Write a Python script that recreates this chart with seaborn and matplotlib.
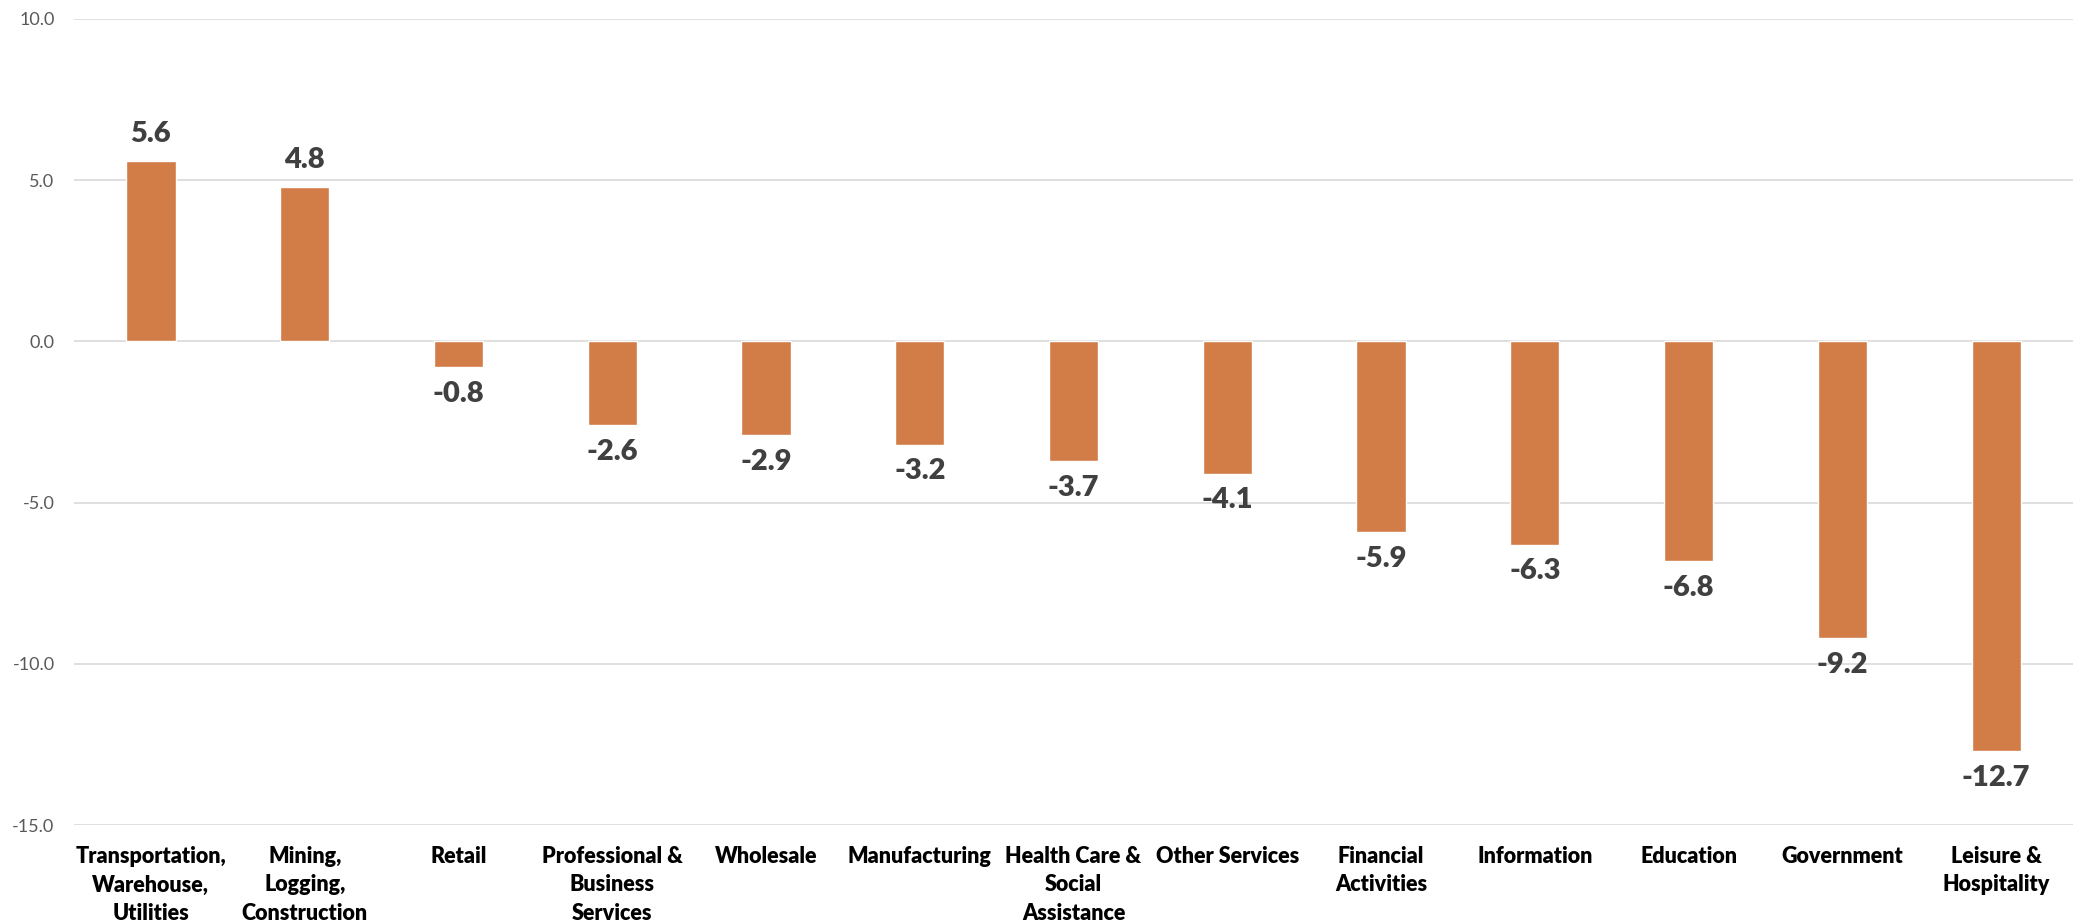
import pandas as pd
import seaborn as sns
from matplotlib import pyplot as plt

categories = [
    "Transportation,\nWarehouse,\nUtilities",
    "Mining,\nLogging,\nConstruction",
    "Retail",
    "Professional &\nBusiness\nServices",
    "Wholesale",
    "Manufacturing",
    "Health Care &\nSocial\nAssistance",
    "Other Services",
    "Financial\nActivities",
    "Information",
    "Education",
    "Government",
    "Leisure &\nHospitality",
]
values = [5.6, 4.8, -0.8, -2.6, -2.9, -3.2, -3.7, -4.1, -5.9, -6.3, -6.8, -9.2, -12.7]
y_ticks = [-15, -10, -5, 0, 5, 10]

sns.set_theme(style="white")
plt.rcParams["font.family"] = ["Lato", "DejaVu Sans"]

df = pd.DataFrame({"sector": categories, "change": values})

fig = plt.figure(figsize=(20.86, 9.22), dpi=100)
ax = fig.add_axes([0.0355, 0.1052, 0.9583, 0.8742])
sns.barplot(data=df, x="sector", y="change", color="#D27C47", saturation=1,
            width=0.32, ax=ax, zorder=3)

ax.set_ylim(-15, 10)
ax.set_xlim(-0.5, len(categories) - 0.5)
ax.set_yticks(y_ticks)
ax.set_yticklabels([f"{t:.1f}" for t in y_ticks], fontsize=13, color="#595959")
ax.yaxis.grid(True, color="#D9D9D9", linewidth=1.2, zorder=0)
ax.set_axisbelow(True)
for spine in ax.spines.values():
    spine.set_visible(False)
ax.tick_params(axis="both", length=0)
ax.tick_params(axis="y", pad=14)
ax.tick_params(axis="x", pad=15)
for lbl in ax.get_xticklabels():
    lbl.set_fontsize(15.5)
    lbl.set_fontweight("heavy")
    lbl.set_color("black")
    lbl.set_linespacing(1.45)
ax.set_xlabel("")
ax.set_ylabel("")

ax.bar_label(ax.containers[0], labels=[f"{v:.1f}" for v in values], padding=10,
             fontsize=21, fontweight="heavy", color="#404040")

fig.savefig("out.png", dpi=100)
